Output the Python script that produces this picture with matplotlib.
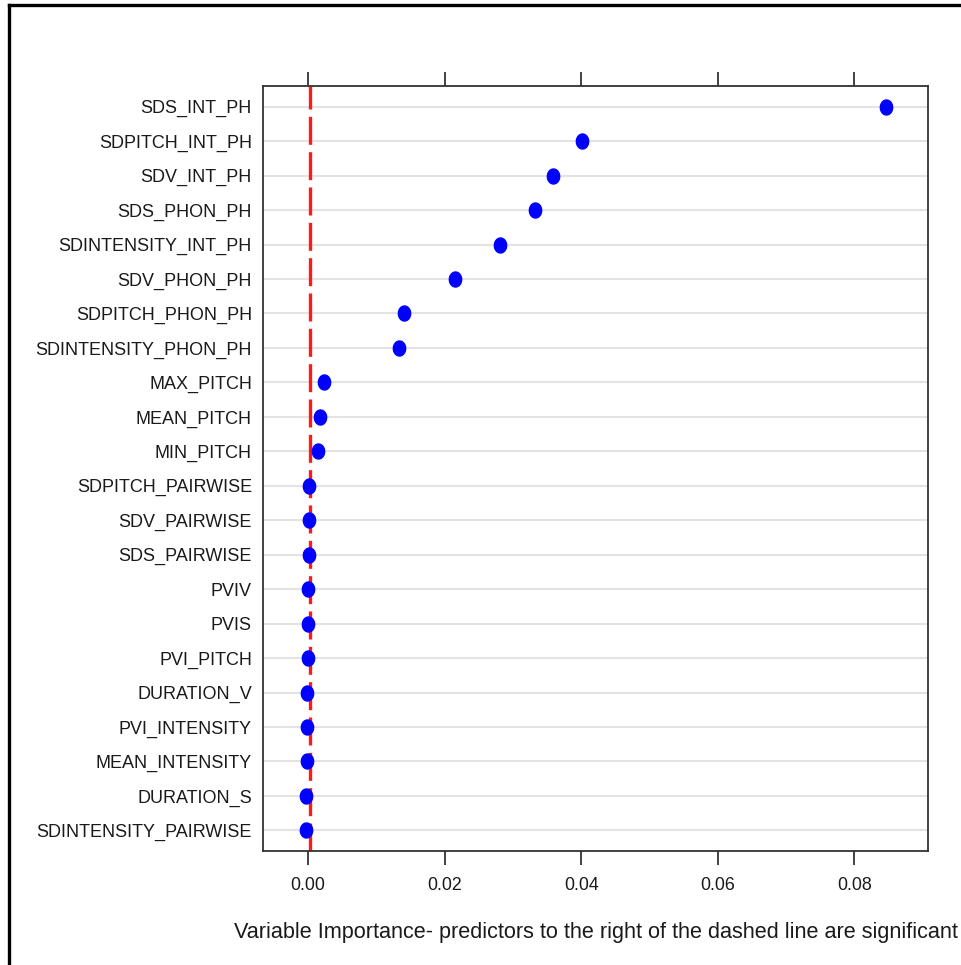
import numpy as np
import matplotlib.pyplot as plt
from matplotlib.path import Path

plt.rcParams['font.family'] = ['Liberation Sans', 'DejaVu Sans']

# variable importance (top to bottom)
predictors = ['SDS_INT_PH', 'SDPITCH_INT_PH', 'SDV_INT_PH', 'SDS_PHON_PH',
              'SDINTENSITY_INT_PH', 'SDV_PHON_PH', 'SDPITCH_PHON_PH',
              'SDINTENSITY_PHON_PH', 'MAX_PITCH', 'MEAN_PITCH', 'MIN_PITCH',
              'SDPITCH_PAIRWISE', 'SDV_PAIRWISE', 'SDS_PAIRWISE', 'PVIV', 'PVIS',
              'PVI_PITCH', 'DURATION_V', 'PVI_INTENSITY', 'MEAN_INTENSITY',
              'DURATION_S', 'SDINTENSITY_PAIRWISE']
importance = [0.0847, 0.0401, 0.0359, 0.0333, 0.0281, 0.0215, 0.0141, 0.0133,
              0.0024, 0.0017, 0.0014, 0.00015, 0.0001, 0.00008, 0.00005, 0.0,
              0.0, -0.0001, -0.0001, -0.0002, -0.00025, -0.0003]
cutoff = 0.00022
xticks = [0.00, 0.02, 0.04, 0.06, 0.08]

n = len(predictors)
ypos = np.arange(n, 0, -1)

fig = plt.figure(figsize=(9.61, 9.65), dpi=100)
ax = fig.add_axes([0.2737, 0.1181, 0.692, 0.7928])

for y in ypos:
    ax.axhline(y, color='#e3e3e3', lw=1.5, zorder=1)

ax.axvline(cutoff, color='#ff1a1a', lw=2.4, ls=(0, (8.4, 2.2)), zorder=2)

# slightly tall ellipse marker
t = np.linspace(0, 2 * np.pi, 60)
ell = Path(np.column_stack([0.82 * np.cos(t), np.sin(t)]), closed=True)
ax.plot(importance, ypos, ls='', marker=ell, ms=10.8, color='#0000ff',
        mec='#0000ff', zorder=3)

ax.set_xlim(-0.0066, 0.0908)
ax.set_ylim(0.4, n + 0.6)
ax.set_yticks(ypos)
ax.set_yticklabels(predictors, fontsize=13.0, color='#1a1a1a')
ax.tick_params(axis='y', length=0, pad=8)

ax.set_xticks(xticks)
ax.set_xticklabels(['%.2f' % v for v in xticks], fontsize=12.8, color='#1a1a1a')
ax.tick_params(axis='x', direction='out', length=10, width=1.2, color='#222222',
               top=True, labeltop=False, pad=9)
for sp in ax.spines.values():
    sp.set_linewidth(1.3)
    sp.set_color('#333333')

ax.set_xlabel('Variable Importance- predictors to the right of the dashed line are significant',
              fontsize=15.6, color='#1a1a1a', labelpad=20)

# frame around the figure (top and left edges)
fig.add_artist(plt.Line2D([8.5 / 961, 1.0], [1 - 4.5 / 965] * 2, color='black', lw=2.4))
fig.add_artist(plt.Line2D([8.5 / 961] * 2, [0.0, 1 - 4.5 / 965], color='black', lw=2.4))

fig.savefig('out.png', dpi=100)
